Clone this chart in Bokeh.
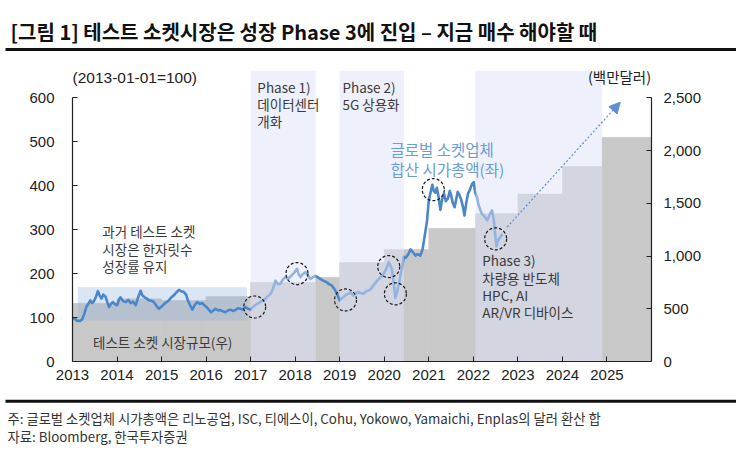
from bokeh.plotting import figure
from bokeh.models import (Range1d, LinearAxis, FixedTicker, NumeralTickFormatter,
                          Label, Arrow, NormalHead)
from bokeh.layouts import column
from bokeh.embed import file_html
from bokeh.resources import INLINE
from bokeh.core.properties import value

# ------------------------------------------------------------------ data
title_text = "[그림 1] 테스트 소켓시장은 성장 Phase 3에 진입 – 지금 매수 해야할 때"
note_text = "주: 글로벌 소켓업체 시가총액은 리노공업, ISC, 티에스이, Cohu, Yokowo, Yamaichi, Enplas의 달러 환산 합"
source_text = "자료: Bloomberg, 한국투자증권"

year_ticks = list(range(2013, 2026))
left_ticks = [0, 100, 200, 300, 400, 500, 600]
right_ticks = [0, 500, 1000, 1500, 2000, 2500]

# test socket market size (right axis, USD mn): bar start (year) and value
market_start = [2013, 2014, 2015, 2016, 2017, 2018.46, 2019, 2020, 2021,
                2022.05, 2023, 2024, 2024.89]
market_size = [552, 594, 578, 616, 751, 798, 938, 1061, 1263, 1402, 1588,
               1848, 2125]

# growth phases (shaded periods)
phase_start = [2017.0, 2019.0, 2022.05]
phase_end = [2018.46, 2020.44, 2024.89]

# past range band (left axis)
past_left, past_right = [2013.12], [2016.92]
past_low, past_high = [93], [169]

# global socket makers' combined market cap, 2013-01-01 = 100 (left axis)
cap_year = [
    2013.00, 2013.05, 2013.10, 2013.16, 2013.22, 2013.27, 2013.31, 2013.36,
    2013.40, 2013.44, 2013.48, 2013.53, 2013.57, 2013.61, 2013.65, 2013.69,
    2013.74, 2013.78, 2013.82, 2013.87, 2013.91, 2013.96, 2014.00, 2014.04,
    2014.08, 2014.13, 2014.19, 2014.25, 2014.31, 2014.36, 2014.42, 2014.47,
    2014.53, 2014.57, 2014.62, 2014.67, 2014.72, 2014.78, 2014.83, 2014.89,
    2014.94, 2015.00, 2015.05, 2015.10, 2015.16, 2015.22, 2015.27, 2015.33,
    2015.39, 2015.44, 2015.50, 2015.55, 2015.59, 2015.64, 2015.69, 2015.74,
    2015.80, 2015.86, 2015.91, 2015.96, 2016.01, 2016.06, 2016.11, 2016.16,
    2016.21, 2016.27, 2016.32, 2016.38, 2016.43, 2016.49, 2016.54, 2016.60,
    2016.66, 2016.71, 2016.77, 2016.82, 2016.88, 2016.94, 2017.00, 2017.05,
    2017.10, 2017.15, 2017.22, 2017.30, 2017.37, 2017.45, 2017.50, 2017.56,
    2017.61, 2017.67, 2017.72, 2017.78, 2017.84, 2017.90, 2017.96, 2018.00,
    2018.04, 2018.08, 2018.12, 2018.17, 2018.23, 2018.28, 2018.34, 2018.40,
    2018.45, 2018.50, 2018.56, 2018.63, 2018.71, 2018.76, 2018.82, 2018.88,
    2018.94, 2019.00, 2019.04, 2019.08, 2019.14, 2019.20, 2019.24, 2019.30,
    2019.35, 2019.41, 2019.47, 2019.53, 2019.60, 2019.68, 2019.75, 2019.84,
    2019.92, 2019.99, 2020.05, 2020.10, 2020.14, 2020.17, 2020.21, 2020.25,
    2020.29, 2020.33, 2020.37, 2020.40, 2020.44, 2020.48, 2020.54, 2020.59,
    2020.65, 2020.70, 2020.75, 2020.81, 2020.86, 2020.89, 2020.93, 2020.96,
    2021.00, 2021.04, 2021.08, 2021.11, 2021.15, 2021.18, 2021.22, 2021.26,
    2021.30, 2021.34, 2021.38, 2021.43, 2021.47, 2021.50, 2021.54, 2021.58,
    2021.62, 2021.65, 2021.69, 2021.73, 2021.77, 2021.80, 2021.84, 2021.88,
    2021.92, 2021.97, 2022.01, 2022.04, 2022.08, 2022.12, 2022.19, 2022.25,
    2022.31, 2022.37, 2022.42, 2022.46, 2022.49, 2022.52, 2022.55, 2022.60,
    2022.65]
cap_index = [
    100, 97, 93, 92, 96, 110, 124, 132,
    139, 133, 137, 148, 160, 150, 143, 152,
    148, 135, 124, 132, 135, 130, 128, 140,
    146, 138, 135, 140, 133, 136, 128, 145,
    161, 150, 146, 143, 139, 138, 135, 126,
    120, 125, 130, 134, 139, 146, 150, 157,
    163, 160, 158, 152, 139, 128, 118, 128,
    135, 131, 133, 128, 124, 118, 112, 116,
    120, 116, 117, 114, 112, 116, 118, 115,
    117, 121, 120, 118, 124, 120, 118, 124,
    128, 131, 136, 140, 147, 154, 165, 184,
    176, 177, 186, 192, 188, 194, 200, 205,
    211, 198, 192, 199, 203, 196, 188, 192,
    195, 192, 188, 184, 180, 176, 173, 165,
    154, 139, 143, 146, 152, 154, 158, 150,
    154, 158, 156, 154, 160, 163, 172, 184,
    192, 200, 212, 226, 218, 211, 180, 145,
    160, 177, 200, 215, 238, 236, 244, 255,
    248, 241, 244, 241, 255, 275, 300, 321,
    366, 385, 402, 388, 384, 395, 374, 345,
    370, 382, 365, 371, 388, 379, 360, 351,
    372, 386, 378, 367, 350, 332, 360, 382,
    390, 404, 408, 385, 374, 355, 336, 330,
    321, 335, 344, 321, 290, 262, 275, 282,
    290]

# highlighted turning points (dashed circles)
circle_year = [2017.09, 2018.04, 2019.13, 2020.10, 2020.25, 2021.10, 2022.50]
circle_index = [124, 200, 140, 216, 154, 391, 279]

# expected trend arrow (left axis)
arrow_from = (2022.76, 306)
arrow_to = (2025.30, 590)

# ------------------------------------------------------------------ styles
KR = "Noto Sans CJK KR"
NUM = "Liberation Sans"
BAR = "#c8c8c8"
BLUE = "#4a86c8"
TXT = "#3a3a3a"
W = 736

y_top = 662.0
right_top = y_top * 2500 / 600


def no_align(fig):
    if "frame_align" in fig.properties():
        fig.frame_align = False


# ------------------------------------------------------------------ title
t = figure(width=W, height=56, x_range=Range1d(0, W), y_range=Range1d(56, 0),
           output_backend="svg", toolbar_location=None, title=None,
           x_axis_location=None, y_axis_location=None, min_border=0)
t.grid.visible = False
t.outline_line_color = None
t.text(x=[10], y=[31], text=[title_text], text_font=value(KR), text_font_style="bold",
       text_font_size="20px", text_baseline="middle", text_color="#111111")
t.segment(x0=[5], y0=[49], x1=[W], y1=[49], line_width=3, line_color="#111111")
no_align(t)

# ------------------------------------------------------------------ main chart
p = figure(width=W, height=339, x_range=Range1d(2013, 2026), y_range=Range1d(0, y_top),
           output_backend="svg", toolbar_location=None, title=None,
           min_border_left=72, min_border_right=85, min_border_top=14, min_border_bottom=34)
p.extra_y_ranges = {"right": Range1d(0, right_top)}
p.xgrid.visible = False
p.ygrid.visible = False
p.outline_line_color = None
no_align(p)

market_end = market_start[1:] + [2026]
p.quad(left=market_start, right=market_end, bottom=0, top=market_size,
       y_range_name="right", fill_color=BAR, line_color=BAR, line_width=0.5)
p.quad(left=past_left, right=past_right, bottom=past_low, top=past_high,
       fill_color="#90b4db", fill_alpha=0.33, line_color=None)
p.line(cap_year, cap_index, line_width=2.6, line_color=BLUE, line_join="round")
p.quad(left=phase_start, right=phase_end, bottom=0, top=y_top,
       fill_color="#dde1f7", fill_alpha=0.5, line_color=None)
p.scatter(circle_year, circle_index, marker="circle", size=22, fill_color=None,
          line_color="#1a1a1a", line_dash="3 2", line_width=1.2)
p.add_layout(Arrow(end=NormalHead(size=11, fill_color="#5b8fd0", line_color="#5b8fd0"),
                   x_start=arrow_from[0], y_start=arrow_from[1],
                   x_end=arrow_to[0], y_end=arrow_to[1],
                   line_color="#5b8fd0", line_width=1.2, line_dash="2 2"))

# axes
xa = p.below[0]
xa.ticker = FixedTicker(ticks=year_ticks)
ya = p.left[0]
ya.ticker = FixedTicker(ticks=left_ticks)
ya.bounds = (0, 600)
ra = LinearAxis(y_range_name="right", ticker=FixedTicker(ticks=right_ticks),
                formatter=NumeralTickFormatter(format="0,0"), bounds=(0, 2500))
p.add_layout(ra, "right")
for ax, standoff in ((xa, 8), (ya, 18), (ra, 12)):
    ax.axis_line_color = "#222222"
    ax.axis_line_width = 1.2
    ax.major_tick_line_color = "#222222"
    ax.major_tick_in = 5
    ax.major_tick_out = 0
    ax.minor_tick_line_color = None
    ax.major_label_text_font = NUM
    ax.major_label_text_font_size = "15px"
    ax.major_label_text_color = "#222222"
    ax.major_label_standoff = standoff


def lab(x, y, text, size="13.5px", color=TXT, font=KR, align="left"):
    p.add_layout(Label(x=x, y=y, text=text, text_font=font, text_font_size=size,
                       text_color=color, text_baseline="middle", text_align=align))


lab(2013.0, 646, "(2013-01-01=100)", size="15.5px", font=NUM, color="#222222")
lab(2025.99, 648, "(백만달러)", size="14.5px", color="#222222", align="right")
lab(2017.15, 624, "Phase 1)")
lab(2017.15, 585, "데이터센터")
lab(2017.15, 547, "개화")
lab(2019.06, 624, "Phase 2)")
lab(2019.06, 585, "5G 상용화")
lab(2020.14, 484, "글로벌 소켓업체", size="15.5px", color="#6a9dd6")
lab(2020.14, 438, "합산 시가총액(좌)", size="15.5px", color="#6a9dd6")
lab(2013.67, 298, "과거 테스트 소켓")
lab(2013.67, 256, "시장은 한자릿수")
lab(2013.67, 218, "성장률 유지")
lab(2013.46, 45, "테스트 소켓 시장규모(우)")
lab(2022.20, 231, "Phase 3)")
lab(2022.20, 190, "차량용 반도체")
lab(2022.20, 152, "HPC, AI")
lab(2022.20, 112, "AR/VR 디바이스")

# ------------------------------------------------------------------ footer
f = figure(width=W, height=60, x_range=Range1d(0, W), y_range=Range1d(60, 0),
           output_backend="svg", toolbar_location=None, title=None,
           x_axis_location=None, y_axis_location=None, min_border=0)
f.grid.visible = False
f.outline_line_color = None
f.segment(x0=[5], y0=[5.8], x1=[W], y1=[5.8], line_width=3, line_color="#111111")
f.text(x=[7, 7], y=[23.3, 40.7], text=[note_text, source_text], text_font=value(KR),
       text_font_size="13.3px", text_baseline="middle", text_color="#333333")
no_align(f)

layout = column(t, p, f, spacing=0)
open("out.html", "w").write(file_html(layout, INLINE))
